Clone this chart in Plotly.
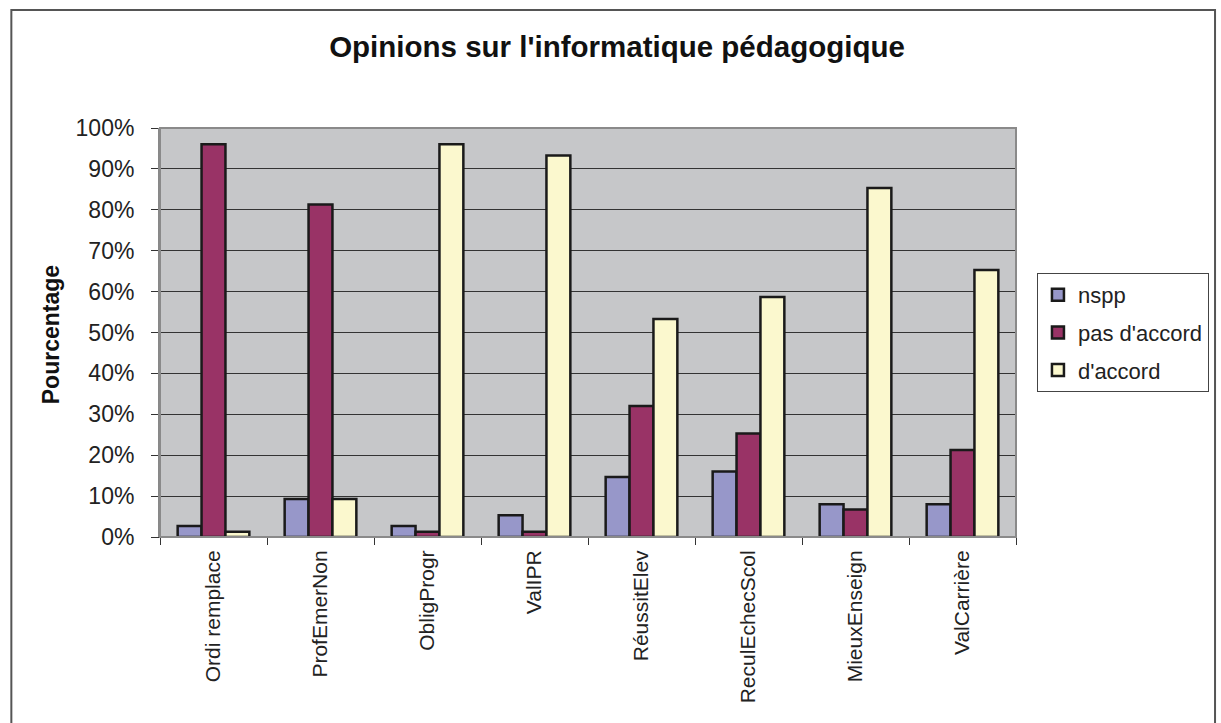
import plotly.graph_objects as go

categories = ["Ordi remplace", "ProfEmerNon", "ObligProgr", "ValIPR",
              "RéussitElev", "ReculEchecScol", "MieuxEnseign", "ValCarrière"]
nspp = [2.7, 9.3, 2.7, 5.3, 14.7, 16.0, 8.0, 8.0]
pas_accord = [96.0, 81.3, 1.3, 1.3, 32.0, 25.3, 6.7, 21.3]
accord = [1.3, 9.3, 96.0, 93.3, 53.3, 58.7, 85.3, 65.3]
y_ticks = [0, 10, 20, 30, 40, 50, 60, 70, 80, 90, 100]
y_tick_labels = [f"{v}%" for v in y_ticks]

series = [("nspp", nspp, "#9797C9"), ("pas d'accord", pas_accord, "#993366"),
          ("d'accord", accord, "#FBF8CE")]

fig = go.Figure()
for i, (name, vals, col) in enumerate(series):
    fig.add_trace(go.Bar(x=categories, y=vals, name=name, legendgroup=str(i),
                         marker=dict(color=col, line=dict(color="#1a1a1a", width=2.5))))

L, R, T, B = 160, 1018, 128, 537
W, H = 1221, 723
pw, ph = R - L, B - T

def px(x):
    return (x - L) / pw

def py(y):
    return (B - y) / ph

FONT = "Liberation Sans, Arial, sans-serif"
fig.update_layout(
    width=W, height=H,
    margin=dict(l=L, r=W - R, t=T, b=H - B, pad=0),
    paper_bgcolor="white", plot_bgcolor="#C6C7C9",
    barmode="group", bargap=0.33, bargroupgap=0,
    font=dict(family=FONT, color="#222222", size=20),
    title=dict(text="<b>Opinions sur l'informatique pédagogique</b>",
               x=617 / W, xanchor="center", y=1 - 47 / H, yanchor="middle",
               font=dict(size=29.5, family=FONT, color="#111111")),
    showlegend=True,
    legend=dict(x=px(1039), y=py(273), xanchor="left", yanchor="top",
                bordercolor="#444444", borderwidth=1, bgcolor="white",
                font=dict(size=22, family=FONT, color="#222222"),
                traceorder="grouped", tracegroupgap=6, itemwidth=30),
    xaxis=dict(tickson="boundaries", ticks="outside", ticklen=7, tickcolor="#333333",
               showgrid=False, showline=True, linecolor="#333333", linewidth=1,
               tickangle=-90, tickfont=dict(size=21, family=FONT, color="#222222"),
               ticklabelstandoff=4),
    yaxis=dict(range=[0, 100], tickmode="array", tickvals=y_ticks, ticktext=y_tick_labels,
               ticks="outside", ticklen=7, tickcolor="#333333",
               showgrid=True, gridcolor="#333333", gridwidth=1,
               showline=True, linecolor="#888888", linewidth=2,
               tickfont=dict(size=23, family=FONT, color="#222222"),
               ticklabelstandoff=12, zeroline=False),
)

# plot area right and top border
fig.add_shape(type="rect", xref="paper", yref="paper", x0=0, x1=1, y0=0, y1=1,
              line=dict(color="#8a8a8a", width=2), layer="above")
# outer chart frame
fig.add_shape(type="rect", xref="paper", yref="paper",
              x0=px(11), x1=px(1217.5), y0=py(740), y1=py(10),
              line=dict(color="#555555", width=2))
fig.add_annotation(text="<b>Pourcentage</b>", xref="paper", yref="paper",
                   x=px(51), y=py(335), xanchor="center", yanchor="middle",
                   textangle=-90, showarrow=False,
                   font=dict(size=23, family=FONT, color="#111111"))

fig.write_html("out.html", config={"displayModeBar": False},
               post_script="document.body.style.margin='0';document.body.style.overflow='hidden';")
